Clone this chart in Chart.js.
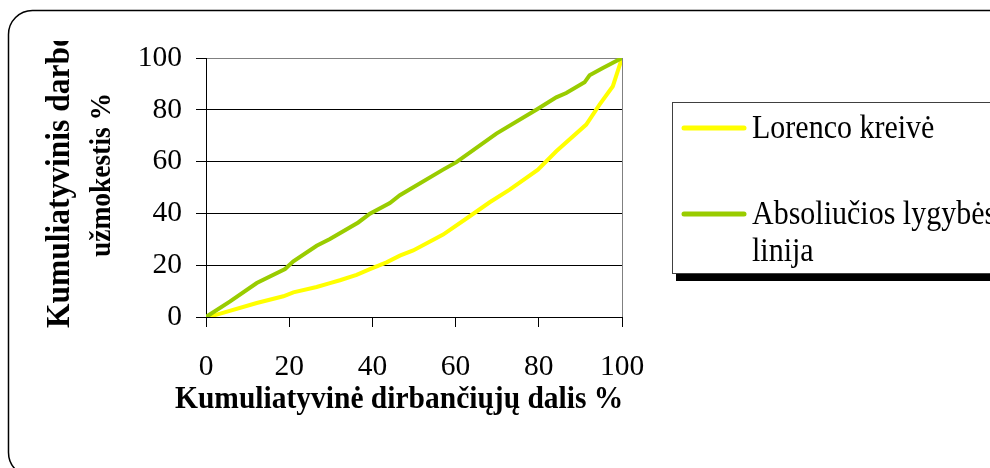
<!DOCTYPE html>
<html>
<head>
<meta charset="utf-8">
<script src="https://cdn.jsdelivr.net/npm/chart.js@4"></script>
<style>
  body { margin: 0; background: #fff; overflow: hidden; }
  canvas { display: block; }
</style>
</head>
<body>
<canvas id="lorenzChart" width="990" height="468"></canvas>
<script>
// data (x = cumulative share of workers %, y = cumulative pay %)
const lorencoX = [0, 2.6, 12.2, 18.6, 21, 26.6, 29.8, 32.2, 36.2, 39.4, 43.4, 46.6, 49.8, 57, 63.4, 68.2, 73, 79.8, 84.2, 91.4, 94.6, 97.8, 100];
const lorencoY = [0, 0.9, 5.4, 8, 9.5, 11.6, 13.1, 14.2, 16.3, 18.5, 21.1, 23.7, 25.7, 31.8, 38.9, 44.3, 49.2, 56.9, 64, 74.3, 82, 89.1, 100];
const lygybesX = [0, 5.8, 12.2, 19, 21, 26.6, 29.8, 36.6, 39.4, 44.2, 46.6, 57, 60.2, 69.8, 79.4, 84.2, 86.6, 91, 92.2, 95.4, 100];
const lygybesY = [0, 6, 13.1, 18.5, 21.5, 27.5, 30.1, 36.5, 39.9, 44, 47, 56.9, 59.8, 70.8, 80, 84.8, 86.5, 90.6, 93.3, 96.1, 100];
const axisTicks = [0, 20, 40, 60, 80, 100];
const seriesLabels = ['Lorenco kreivė', ['Absoliučios lygybės', 'linija']];
const xTitle = 'Kumuliatyvinė dirbančiųjų dalis %';
const yTitle = ['Kumuliatyvinis darbo', 'užmokestis %'];

const toPoints = (xs, ys) => xs.map((x, i) => ({x: x, y: ys[i]}));

const serif = '"Liberation Serif", "Times New Roman", serif';
const stretch = 1.1; // the original text is a bit taller than Liberation Serif

const drawText = (ctx, text, x, y, font, rot, align, baseline) => {
    ctx.save();
    ctx.font = font;
    ctx.fillStyle = '#000';
    ctx.translate(x, y);
    ctx.rotate(rot);
    ctx.scale(1, stretch);
    ctx.textAlign = align;
    ctx.textBaseline = baseline;
    ctx.fillText(text, 0, 0);
    ctx.restore();
};

// rounded outer frame, axis titles and boxed legend
const decorPlugin = {
    id: 'decor',
    beforeDraw(chart) {
        const ctx = chart.ctx;
        ctx.save();
        ctx.fillStyle = '#fff';
        ctx.fillRect(0, 0, chart.width, chart.height);
        ctx.strokeStyle = '#000';
        ctx.lineWidth = 1.5;
        ctx.beginPath();
        ctx.roundRect(8.5, 10.5, 1010, 466, 24);
        ctx.stroke();
        ctx.restore();
    },
    afterDraw(chart) {
        const ctx = chart.ctx;

        // x axis title
        drawText(ctx, xTitle, 175, 408, 'bold 29.5px ' + serif, 0, 'left', 'alphabetic');

        // y axis title, first line cut at the top like the original
        ctx.save();
        ctx.beginPath();
        ctx.rect(0, 41, 200, 427);
        ctx.clip();
        drawText(ctx, yTitle[0], 69, 328, 'bold 31.5px ' + serif, -Math.PI / 2, 'left', 'alphabetic');
        ctx.restore();
        drawText(ctx, yTitle[1], 110, 175, 'bold 27.5px ' + serif, -Math.PI / 2, 'center', 'alphabetic');

        // legend box with shadow
        ctx.save();
        ctx.fillStyle = '#000';
        ctx.fillRect(676, 273, 400, 8);
        ctx.fillStyle = '#fff';
        ctx.fillRect(672, 102, 400, 171);
        ctx.strokeStyle = '#404040';
        ctx.lineWidth = 1;
        ctx.strokeRect(672.5, 102.5, 400, 171);

        const rows = [128, 214];
        chart.data.datasets.forEach((ds, i) => {
            const y = rows[i];
            ctx.strokeStyle = ds.borderColor;
            ctx.lineWidth = 5;
            ctx.lineCap = 'round';
            ctx.beginPath();
            ctx.moveTo(684, y);
            ctx.lineTo(744, y);
            ctx.stroke();
            const lines = Array.isArray(ds.label) ? ds.label : [ds.label];
            lines.forEach((t, j) => drawText(ctx, t, 752, y + 1 + j * 37, '30px ' + serif, 0, 'left', 'middle'));
        });
        ctx.restore();
    }
};

const gridColor = (ctx) => (ctx.tick && ctx.tick.value === 100 ? '#808080' : '#000');

new Chart(document.getElementById('lorenzChart'), {
    type: 'scatter',
    data: {
        datasets: [{
            label: seriesLabels[0],
            data: toPoints(lorencoX, lorencoY),
            borderColor: '#FFFF00',
            backgroundColor: '#FFFF00',
            borderWidth: 4,
            showLine: true,
            pointRadius: 0,
            order: 2
        },
        {
            label: seriesLabels[1],
            data: toPoints(lygybesX, lygybesY),
            borderColor: '#99CC00',
            backgroundColor: '#99CC00',
            borderWidth: 4,
            showLine: true,
            pointRadius: 0,
            order: 1
        }]
    },
    options: {
        responsive: false,
        animation: false,
        devicePixelRatio: 1,
        layout: {
            padding: {left: 0, top: 58, right: 368, bottom: 0}
        },
        plugins: {
            legend: {display: false},
            tooltip: {enabled: false}
        },
        scales: {
            x: {
                type: 'linear',
                min: 0,
                max: 100,
                afterFit: (scale) => { scale.height = 151; },
                afterBuildTicks: (scale) => { scale.ticks = axisTicks.map((v) => ({value: v})); },
                border: {color: '#000', width: 1},
                grid: {
                    color: (ctx) => (ctx.tick && ctx.tick.value === 100 ? '#808080' : 'rgba(0,0,0,0)'),
                    tickColor: '#000',
                    tickLength: 10
                },
                ticks: {
                    color: '#000',
                    padding: 23,
                    font: {family: serif, size: 29.5}
                }
            },
            y: {
                type: 'linear',
                min: 0,
                max: 100,
                afterFit: (scale) => { scale.width = 206; },
                afterBuildTicks: (scale) => { scale.ticks = axisTicks.map((v) => ({value: v})); },
                border: {color: '#000', width: 1},
                grid: {
                    color: gridColor,
                    tickColor: '#000',
                    tickLength: 10
                },
                ticks: {
                    color: '#000',
                    padding: 14,
                    font: {family: serif, size: 29.5}
                }
            }
        }
    },
    plugins: [decorPlugin]
});
</script>
</body>
</html>
